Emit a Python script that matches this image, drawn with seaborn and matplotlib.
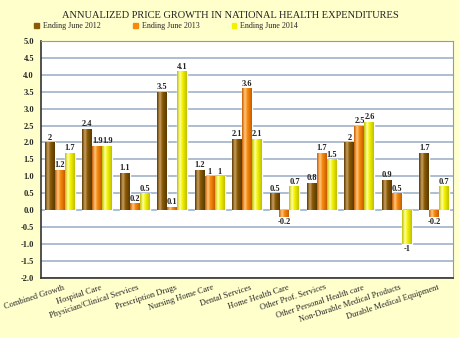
import numpy as np
import pandas as pd
import matplotlib
matplotlib.use("Agg")
import matplotlib.pyplot as plt
import matplotlib.transforms as mtransforms
import seaborn as sns
from matplotlib.colors import LinearSegmentedColormap

categories = ["Combined Growth", "Hospital Care", "Physician/Clinical Services",
              "Prescription Drugs", "Nursing Home Care", "Dental Services",
              "Home Health Care", "Other Prof. Services", "Other Personal Health care",
              "Non-Durable Medical Products", "Durable Medical Equipment"]
series = ["Ending June 2012", "Ending June 2013", "Ending June 2014"]
v2012 = [2.0, 2.4, 1.1, 3.5, 1.2, 2.1, 0.5, 0.8, 2.0, 0.9, 1.7]
v2013 = [1.2, 1.9, 0.2, 0.1, 1.0, 3.6, -0.2, 1.7, 2.5, 0.5, -0.2]
v2014 = [1.7, 1.9, 0.5, 4.1, 1.0, 2.1, 0.7, 1.5, 2.6, -1.0, 0.7]
colors = ["#8a5a06", "#f78a0c", "#f2f200"]
dark = ["#5a3a00", "#c85c00", "#c0c000"]
light = ["#caa060", "#ffc880", "#ffffa0"]

df = pd.DataFrame({
    "category": categories * 3,
    "series": [s for s in series for _ in categories],
    "value": v2012 + v2013 + v2014,
})

sns.set_style("white")
plt.rcParams["font.family"] = ["Liberation Serif", "DejaVu Serif"]

fig = plt.figure(figsize=(4.6, 3.38), dpi=100)
fig.patch.set_facecolor("#ffffcc")
ax = fig.add_axes([0.089, 0.178, 0.896, 0.701])
ax.set_facecolor("white")

sns.barplot(data=df, x="category", y="value", hue="series", palette=colors,
            width=0.8, ax=ax, saturation=1, legend=True)

# gradient shading on bars
for i, cont in enumerate(ax.containers):
    cmap = LinearSegmentedColormap.from_list(
        "g", [(0, dark[i]), (0.3, light[i]), (0.55, colors[i]), (1, dark[i])])
    grad = np.linspace(0, 1, 64).reshape(1, -1)
    for p in cont.patches:
        x0, y0 = p.get_x(), p.get_y()
        w, h = p.get_width(), p.get_height()
        im = ax.imshow(grad, cmap=cmap, aspect="auto",
                       extent=[x0, x0 + w, min(y0, y0 + h), max(y0, y0 + h)],
                       zorder=p.get_zorder() + 0.1)
        im.set_clip_path(p)
    ax.bar_label(cont, labels=[f"{v:g}" for v in cont.datavalues],
                 fontsize=6, fontweight="bold", padding=0.5, color="#222222")

ax.set_xlim(-0.5, len(categories) - 0.5)
ax.set_ylim(-2.0, 5.0)
ax.set_yticks(np.arange(-2.0, 5.01, 0.5))
ax.set_yticklabels([f"{t:.1f}" for t in np.arange(-2.0, 5.01, 0.5)],
                   fontsize=6, fontweight="bold")
ax.yaxis.grid(True, color="#9fb2c8", linewidth=1.2, zorder=0)
ax.set_axisbelow(True)
ax.set_xlabel("")
ax.set_ylabel("")

ax.set_xticks(range(len(categories)))
ax.set_xticklabels(categories, rotation=18, ha="right", rotation_mode="anchor",
                   fontsize=6)
ax.tick_params(axis="x", which="major", length=0, pad=4)
offset = mtransforms.ScaledTranslation(3 / 100, 0, fig.dpi_scale_trans)
for lbl in ax.get_xticklabels():
    lbl.set_transform(lbl.get_transform() + offset)
ax.set_xticks(np.arange(-0.5, len(categories), 1), minor=True)
ax.tick_params(axis="x", which="minor", length=3, color="#444444")
ax.tick_params(axis="y", length=3, color="#444444", pad=2)

for s in ["left", "bottom"]:
    ax.spines[s].set_color("#333333")
    ax.spines[s].set_linewidth(1.2)
for s in ["top", "right"]:
    ax.spines[s].set_color("#999999")
    ax.spines[s].set_linewidth(0.8)

ax.get_legend().remove()
handles = [plt.Rectangle((0, 0), 1, 1, color=c) for c in colors]
fig.legend(handles, series, loc="center left", bbox_to_anchor=(0.058, 0.922),
           ncol=3, frameon=False, fontsize=5.8, handlelength=0.6, handleheight=0.6,
           handletextpad=0.5, columnspacing=4.0)

fig.text(0.5, 0.953, "ANNUALIZED PRICE GROWTH IN NATIONAL HEALTH EXPENDITURES",
         ha="center", va="center", fontsize=7.5, color="#222222")

fig.savefig("out.png", dpi=100, facecolor=fig.get_facecolor())
